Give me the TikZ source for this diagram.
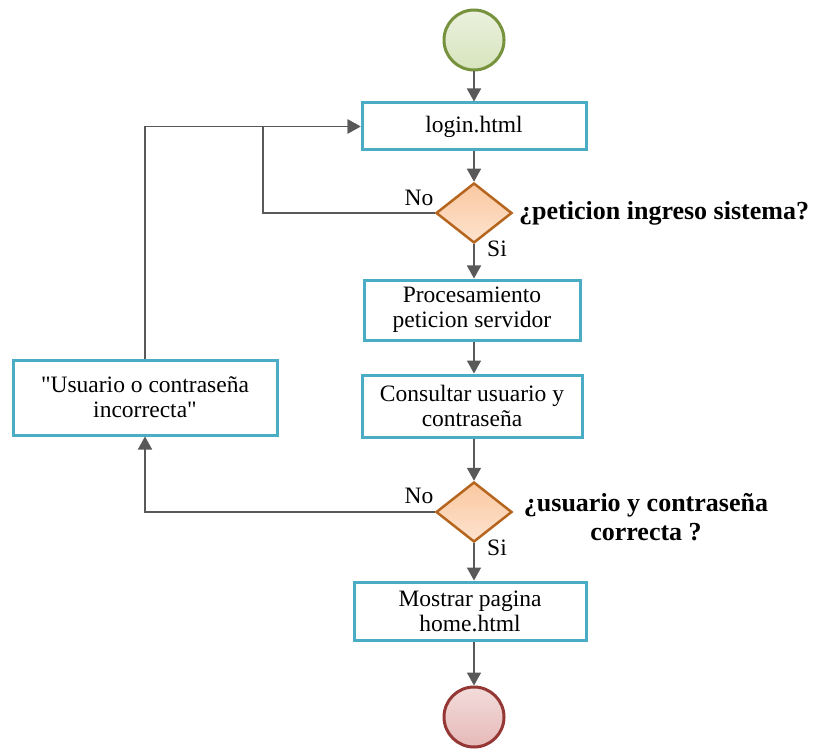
\documentclass[tikz,border=0pt]{standalone}
\usepackage{fontspec}
\setmainfont{Liberation Serif}[Ligatures=TeXOff]
\usetikzlibrary{shapes.geometric,arrows.meta}
\definecolor{boxline}{HTML}{4BACC6}
\definecolor{arrowc}{HTML}{595959}
\definecolor{dline}{HTML}{B5651D}
\definecolor{dtop}{HTML}{FAC8A0}
\definecolor{dbot}{HTML}{FDE3CF}
\definecolor{gline}{HTML}{76923C}
\definecolor{gtop}{HTML}{EBF1DE}
\definecolor{gbot}{HTML}{D7E4BD}
\definecolor{rline}{HTML}{953735}
\definecolor{rtop}{HTML}{F2DCDB}
\definecolor{rbot}{HTML}{E6B9B8}
\tikzset{
  x=1pt, y=-1pt,
  every node/.style={font=\fontsize{23.5}{25}\selectfont, text=black},
  stepbox/.style={draw=boxline, line width=3pt, fill=white, rectangle, align=center, inner sep=2pt},
  decision/.style={diamond, draw=dline, line width=2.5pt, top color=dtop, bottom color=dbot, minimum width=76pt, minimum height=60pt, inner sep=0pt},
  startc/.style={circle, draw=gline, line width=3pt, top color=gtop, bottom color=gbot, minimum size=60pt, inner sep=0pt},
  endc/.style={circle, draw=rline, line width=3pt, top color=rtop, bottom color=rbot, minimum size=60pt, inner sep=0pt},
  arr/.style={draw=arrowc, line width=1.6pt, -{Triangle[width=14pt,length=13pt]}, fill=none},
  lbl/.style={inner sep=0pt},
  qlbl/.style={inner sep=0pt, font=\fontsize{26}{29}\selectfont\bfseries, align=center}
}
\begin{document}
\begin{tikzpicture}
\useasboundingbox (0,0) rectangle (816,751);
\node[startc] (start) at (474,40) {};
\node[stepbox, minimum width=224pt, minimum height=47pt] (login) at (474,126.5) {login.html};
\node[decision] (d1) at (474,213) {};
\node[stepbox, minimum width=216pt, minimum height=60pt] (proc) at (472,310) {Procesamiento\\peticion servidor};
\node[stepbox, minimum width=220pt, minimum height=62pt] (cons) at (472,406) {Consultar usuario y\\contraseña};
\node[decision] (d2) at (474,512) {};
\node[stepbox, minimum width=232pt, minimum height=58pt] (most) at (470,611) {Mostrar pagina\\home.html};
\node[endc] (fin) at (474,717) {};
\node[stepbox, minimum width=264pt, minimum height=75pt] (usr) at (145,397.5) {"Usuario o contraseña\\incorrecta"};

\node[lbl] (no1) at (419,198) {No};
\node[lbl] (si1) at (497,249) {Si};
\node[lbl] (no2) at (419,496) {No};
\node[lbl] (si2) at (497,548) {Si};
\node[qlbl, anchor=west] (q1) at (519,213) {¿peticion ingreso sistema?};
\node[qlbl] (q2) at (646,517) {¿usuario y contraseña\\correcta ?};

\coordinate (j1) at (263,213);

\draw[arr] (start) -- (start |- login.north);
\draw[arr] (start |- login.south) -- (d1.north);
\draw[arr] (d1.south) -- (d1.south |- proc.north);
\draw[arr] (d1.south |- proc.south) -- (d1.south |- cons.north);
\draw[arr] (d1.south |- cons.south) -- (d2.north);
\draw[arr] (d2.south) -- (d2.south |- most.north);
\draw[arr] (d2.south |- most.south) -- (fin.north);
\draw[arr] (d1.west) -- (j1) |- (login.west);
\draw[arr] (usr.north) |- (login.west);
\draw[arr] (d2.west) -| (usr.south);
\end{tikzpicture}
\end{document}
